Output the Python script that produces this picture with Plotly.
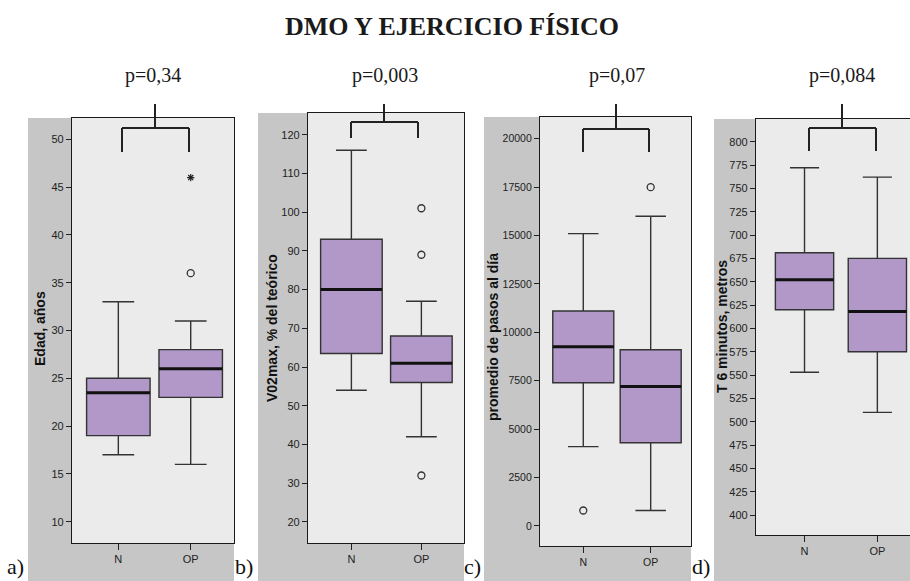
import plotly.graph_objects as go

# ---------------- data ----------------
groups = ["N", "OP"]

# a) Edad, años
edad_q1 = [19, 23]
edad_median = [23.5, 26]
edad_q3 = [25, 28]
edad_low = [17, 16]
edad_high = [33, 31]
edad_outliers = {"OP": [36]}
edad_extremes = {"OP": [46]}
edad_ticks = [10, 15, 20, 25, 30, 35, 40, 45, 50]

# b) VO2max, % del teórico
vo2_q1 = [63.5, 56]
vo2_median = [80, 61]
vo2_q3 = [93, 68]
vo2_low = [54, 42]
vo2_high = [116, 77]
vo2_outliers = {"OP": [101, 89, 32]}
vo2_extremes = {}
vo2_ticks = [20, 30, 40, 50, 60, 70, 80, 90, 100, 110, 120]

# c) promedio de pasos al día
pasos_q1 = [7400, 4300]
pasos_median = [9250, 7200]
pasos_q3 = [11100, 9100]
pasos_low = [4100, 800]
pasos_high = [15100, 16000]
pasos_outliers = {"N": [800], "OP": [17500]}
pasos_extremes = {}
pasos_ticks = [0, 2500, 5000, 7500, 10000, 12500, 15000, 17500, 20000]

# d) T 6 minutos, metros
t6_q1 = [620, 575]
t6_median = [652, 618]
t6_q3 = [681, 675]
t6_low = [553, 510]
t6_high = [772, 762]
t6_outliers = {}
t6_extremes = {}
t6_ticks = list(range(400, 801, 25))

p_values = ["p=0,34", "p=0,003", "p=0,07", "p=0,084"]
y_titles = ["Edad, años", "V02max, % del teórico", "promedio de pasos al día", "T 6 minutos, metros"]
panel_tags = ["a)", "b)", "c)", "d)"]
main_title = "DMO Y EJERCICIO FÍSICO"

stats = [
    (edad_q1, edad_median, edad_q3, edad_low, edad_high, edad_outliers, edad_extremes, edad_ticks),
    (vo2_q1, vo2_median, vo2_q3, vo2_low, vo2_high, vo2_outliers, vo2_extremes, vo2_ticks),
    (pasos_q1, pasos_median, pasos_q3, pasos_low, pasos_high, pasos_outliers, pasos_extremes, pasos_ticks),
    (t6_q1, t6_median, t6_q3, t6_low, t6_high, t6_outliers, t6_extremes, t6_ticks),
]

# ---------------- layout geometry (pixels) ----------------
W, H = 910, 581


def px(x):
    return x / W


def py(y):
    return 1 - y / H


panels = [
    dict(bg=28, left=72, right=234, top=118, bottom=543, xr=[-0.64, 1.598], yr=[7.77, 52.23], bw=0.877,
         tick_size=11, title_x=40, title_y=329, p_x=153, tag_x=15,
         bracket=dict(stem=155, top=104, bar=128, l=122, r=189, leg=152)),
    dict(bg=258, left=308, right=464, top=113, bottom=543, xr=[-0.62, 1.609], yr=[14.57, 125.6], bw=0.88,
         tick_size=11, title_x=272, title_y=328, p_x=385, tag_x=244,
         bracket=dict(stem=384, top=104, bar=122, l=351, r=418, leg=138)),
    dict(bg=484, left=540, right=691, top=117, bottom=546, xr=[-0.642, 1.598], yr=[-1034, 21122], bw=0.905,
         tick_size=10.5, title_x=493, title_y=337, p_x=617, tag_x=472,
         bracket=dict(stem=616, top=104, bar=129, l=583, r=649, leg=152)),
    dict(bg=714, left=756, right=910, top=119, bottom=535, xr=[-0.666, 1.448], yr=[378.6, 824.3], bw=0.80,
         tick_size=11, title_x=722, title_y=327, p_x=842, tag_x=701,
         bracket=dict(stem=842, top=104, bar=128, l=809, r=876, leg=151)),
]

FILL = "#b198c9"
OUTLINE = "#333333"
OUTER_BG = "#c6c6c6"
INNER_BG = "#ebebeb"
SANS = "Liberation Sans, Arial, sans-serif"
SERIF = "Liberation Serif, Times New Roman, serif"

fig = go.Figure()
shapes = []
annotations = []
layout_axes = {}

# dark outer panels first, then the light plot areas on top of them
for i, p in enumerate(panels, start=1):
    shapes.append(dict(type="rect", xref="paper", yref="paper",
                       x0=px(p["bg"]), x1=px(p["right"]), y0=0, y1=py(p["top"]),
                       fillcolor=OUTER_BG, line=dict(width=0), layer="below"))
for i, p in enumerate(panels, start=1):
    sfx = "" if i == 1 else str(i)
    shapes.append(dict(type="rect", xref=f"x{sfx} domain", yref=f"y{sfx} domain",
                       x0=0, x1=1, y0=0, y1=1,
                       fillcolor=INNER_BG, line=dict(width=0), layer="below"))

for i, (p, st) in enumerate(zip(panels, stats), start=1):
    q1, med, q3, low, high, outl, extr, ticks = st
    sfx = "" if i == 1 else str(i)
    xa, ya = f"x{sfx}", f"y{sfx}"
    positions = list(range(len(groups)))

    fig.add_trace(go.Box(
        x=positions, q1=q1, median=med, q3=q3, lowerfence=low, upperfence=high,
        xaxis=xa, yaxis=ya, width=p["bw"], whiskerwidth=0.5,
        fillcolor=FILL, line=dict(color=OUTLINE, width=1.4),
        boxpoints=False, showlegend=False,
    ))

    # thick median bars
    for j, m in enumerate(med):
        shapes.append(dict(type="line", xref=xa, yref=ya,
                           x0=j - p["bw"] / 2, x1=j + p["bw"] / 2, y0=m, y1=m,
                           line=dict(color="#111111", width=3), layer="above"))

    # outliers (open circles) and extremes (asterisks)
    for g, vals in outl.items():
        fig.add_trace(go.Scatter(
            x=[groups.index(g)] * len(vals), y=vals, xaxis=xa, yaxis=ya, mode="markers",
            marker=dict(symbol="circle-open", size=7, color="#333333", line=dict(width=1.3)),
            showlegend=False, hoverinfo="y"))
    for g, vals in extr.items():
        fig.add_trace(go.Scatter(
            x=[groups.index(g)] * len(vals), y=vals, xaxis=xa, yaxis=ya, mode="markers",
            marker=dict(symbol="asterisk-open", size=6, color="#222222", line=dict(width=1.2)),
            showlegend=False, hoverinfo="y"))

    layout_axes[f"xaxis{sfx}"] = dict(
        domain=[px(p["left"]), px(p["right"])], range=p["xr"], anchor=ya,
        tickvals=positions, ticktext=groups, ticks="outside", ticklen=6, tickwidth=1.2,
        tickcolor="#222222", showline=True, mirror=True, linecolor="#1a1a1a", linewidth=1.3,
        showgrid=False, zeroline=False, fixedrange=True,
        tickfont=dict(family=SANS, size=p["tick_size"], color="#222222"),
    )
    layout_axes[f"yaxis{sfx}"] = dict(
        domain=[py(p["bottom"]), py(p["top"])], range=p["yr"], anchor=xa,
        tickvals=ticks, ticktext=[str(t) for t in ticks],
        ticks="outside", ticklen=5, tickwidth=1.2, tickcolor="#222222",
        showline=True, mirror=(i != 4), linecolor="#1a1a1a", linewidth=1.3,
        showgrid=False, zeroline=False, fixedrange=True,
        tickfont=dict(family=SANS, size=p["tick_size"], color="#222222"),
    )

    # significance bracket
    b = p["bracket"]
    bl = dict(color="#222222", width=2)
    for (x0, y0, x1, y1) in [
        (b["stem"], b["top"], b["stem"], b["bar"]),
        (b["l"], b["bar"], b["r"], b["bar"]),
        (b["l"], b["bar"], b["l"], b["leg"]),
        (b["r"], b["bar"], b["r"], b["leg"]),
    ]:
        shapes.append(dict(type="line", xref="paper", yref="paper",
                           x0=px(x0), y0=py(y0), x1=px(x1), y1=py(y1),
                           line=bl, layer="above"))

    annotations.append(dict(text=p_values[i - 1], xref="paper", yref="paper",
                            x=px(p["p_x"]), y=py(75), xanchor="center", yanchor="middle",
                            showarrow=False, font=dict(family=SERIF, size=20, color="#1a1a1a")))
    annotations.append(dict(text=f"<b>{y_titles[i - 1]}</b>", xref="paper", yref="paper",
                            x=px(p["title_x"]), y=py(p["title_y"]), xanchor="center", yanchor="middle",
                            textangle=-90, showarrow=False,
                            font=dict(family=SANS, size=14, color="#111111")))
    annotations.append(dict(text=panel_tags[i - 1], xref="paper", yref="paper",
                            x=px(p["tag_x"]), y=py(566), xanchor="center", yanchor="middle",
                            showarrow=False, font=dict(family=SERIF, size=22, color="#111111")))

annotations.append(dict(text=f"<b>{main_title}</b>", xref="paper", yref="paper",
                        x=px(452), y=py(27), xanchor="center", yanchor="middle", showarrow=False,
                        font=dict(family=SERIF, size=26, color="#1a1a1a")))

fig.update_layout(
    width=W, height=H, margin=dict(l=0, r=0, t=0, b=0),
    paper_bgcolor="white", plot_bgcolor="rgba(0,0,0,0)",
    shapes=shapes, annotations=annotations, showlegend=False,
    **layout_axes,
)

fig.write_html("out.html")
